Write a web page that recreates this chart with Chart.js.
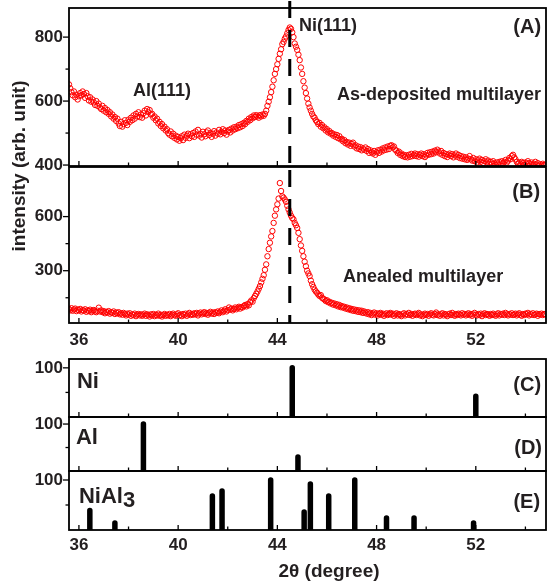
<!DOCTYPE html>
<html><head><meta charset="utf-8">
<script src="https://cdn.jsdelivr.net/npm/chart.js@4.4.1/dist/chart.umd.min.js"></script>
<style>
html,body{margin:0;padding:0;background:#fff;width:547px;height:587px;overflow:hidden;position:relative}
canvas{position:absolute;left:0;top:-30px}
</style></head><body>
<canvas id="cA" width="600" height="650"></canvas>
<canvas id="cB" width="600" height="650"></canvas>
<canvas id="cC" width="600" height="650"></canvas>
<canvas id="cD" width="600" height="650"></canvas>
<canvas id="cE" width="600" height="650"></canvas>
<script>
// ---- data ----
const twoThetaStart = 35.6;
const twoThetaStep = 0.05;
const asDeposited = [
652,640,628,618,630,612,620,605,615,625,618,630,622,610,625,615,602,612,598,605,
596,588,600,585,592,580,575,585,570,578,565,572,560,565,552,558,545,550,538,545,
530,522,535,520,528,540,532,525,542,535,548,540,555,545,560,552,565,550,558,548,
562,570,555,575,565,572,558,560,548,552,540,545,530,535,522,528,515,520,508,512,
500,495,505,490,498,485,492,480,488,476,484,490,478,495,485,492,498,484,496,490,
500,488,505,495,510,492,498,486,504,496,490,502,508,494,500,488,498,506,492,502,
498,510,496,504,512,500,508,495,505,510,502,514,508,518,512,520,515,525,518,528,
522,532,528,538,535,545,540,550,546,555,550,556,552,548,556,552,558,554,560,570,
585,598,612,628,645,665,685,700,715,732,748,762,778,785,795,802,812,822,830,826,
815,800,780,770,760,745,728,705,685,662,642,625,608,592,580,570,560,552,548,540,
535,528,532,520,525,515,518,508,512,502,506,498,500,492,496,488,494,484,490,480,
482,474,478,468,472,464,470,460,466,470,458,462,452,458,450,456,446,452,448,455,
444,450,438,446,440,436,444,432,440,446,438,448,442,452,446,455,448,458,450,460,
462,455,458,448,445,438,442,432,436,428,432,425,430,424,432,426,435,428,432,436,
428,434,426,432,436,428,434,425,430,438,432,440,434,442,436,445,440,448,442,436,
444,432,438,428,434,425,432,436,428,434,424,430,436,426,432,422,428,420,426,418,
424,416,420,428,418,414,422,412,418,408,415,420,410,416,406,412,418,408,414,404,
410,404,412,406,400,408,402,410,404,412,406,410,416,408,414,422,418,428,432,424,
418,410,404,408,402,410,406,400,408,404,412,406,402,408,400,404,410,402,406,398,
402,398,404,400,398
];
const annealed = [
88,80,92,78,85,90,76,84,80,88,74,82,78,86,72,80,76,84,70,78,
82,74,70,78,95,74,80,70,76,64,72,68,76,62,70,66,74,60,68,64,
70,58,64,56,66,60,52,62,56,64,50,58,54,62,48,56,60,52,58,50,
56,62,50,58,54,46,58,52,60,48,56,52,62,50,56,46,54,60,50,56,
52,60,48,56,62,54,50,58,64,52,56,48,60,54,62,50,58,66,54,60,
56,64,58,66,52,62,68,58,64,70,60,66,56,64,72,62,68,60,70,66,
74,64,72,80,70,78,86,74,82,96,84,90,80,88,96,86,94,100,90,98,
96,104,110,102,115,108,125,135,128,148,160,172,185,200,215,235,255,275,305,335,
380,420,455,490,520,565,605,640,668,700,786,742,712,705,695,682,660,640,622,605,
592,585,565,552,537,510,475,440,410,380,350,325,300,285,270,245,225,210,195,185,
178,168,160,165,150,145,140,132,136,125,128,118,122,112,118,108,114,102,110,98,
104,95,100,90,96,86,92,82,88,78,85,76,82,72,80,70,78,66,74,68,
62,70,58,66,54,62,68,56,64,52,60,66,55,62,50,58,64,54,60,66,
56,62,50,58,64,52,60,55,48,58,64,52,60,56,66,54,60,50,58,62,
54,60,66,52,58,48,56,62,54,60,50,58,64,56,52,60,68,54,58,50,
58,64,52,60,56,48,58,62,54,66,56,50,60,54,62,58,52,64,56,60,
52,58,64,54,60,50,58,66,56,52,60,54,62,48,58,64,54,60,56,50,
60,54,62,56,50,58,64,52,60,56,62,54,66,58,52,60,56,64,54,58,
62,52,58,64,56,50,60,54,62,58,66,52,60,56,64,54,58,62,50,60,
56,62,54,60,58
];
const niPos = [44.6, 52.0];
const niInt = [100, 42];
const alPos = [38.6, 44.83];
const alInt = [100, 30];
const nial3Pos = [36.44, 37.45, 41.38, 41.77, 43.73, 45.08, 45.33, 46.07, 47.12, 48.40, 49.51, 51.91];
const nial3Int = [39, 14, 68, 78, 100, 36, 92, 68, 100, 24, 24, 14];
const ni111Position = 44.5;
const xMajorTicks = [36, 40, 44, 48, 52];
const xMinorTicks = [38, 42, 46, 50, 54];
const xTickLabels = ['36', '40', '44', '48', '52'];

// ---- rendering ----
const FONT = "'Liberation Sans', Arial, Helvetica, sans-serif";
const INK = '#231f20';
const X_MIN = 35.6, X_MAX = 54.83;
const OFF = 30;            // canvas is shifted up by OFF px
const CAN_H = 650, CAN_W = 600, AREA_RIGHT = 546;

function toPoints(arr){ return arr.map((v,i)=>({x:+(twoThetaStart+i*twoThetaStep).toFixed(2), y:v})); }
function toSticks(pos, inten){ const d=[]; pos.forEach((p,i)=>{ d.push({x:p,y:0},{x:p,y:inten[i]},{x:p,y:null}); }); return d; }

function pointSet(arr){
  return {data: toPoints(arr), showLine:false, pointRadius:2.7, pointBorderWidth:1,
    pointBorderColor:'#ff0000', pointBackgroundColor:'rgba(255,255,255,0)', pointStyle:'circle'};
}
function stickSet(pos, inten){
  return {data: toSticks(pos, inten), showLine:true, borderColor:'#000', borderWidth:5.5,
    borderCapStyle:'round', pointRadius:0, spanGaps:false, clip:{left:10,right:10,top:10,bottom:0}};
}

const decor = {
  id:'decor',
  afterDatasetsDraw(chart, args, o){
    const ctx = chart.ctx, a = chart.chartArea, xS = chart.scales.x, yS = chart.scales.y;
    const ln = (x1,y1,x2,y2)=>{ ctx.beginPath(); ctx.moveTo(x1,y1); ctx.lineTo(x2,y2); ctx.stroke(); };
    ctx.save();
    if (o.dash) {
      const px = xS.getPixelForValue(ni111Position);
      ctx.strokeStyle = '#000'; ctx.lineWidth = 3; ctx.setLineDash([17,12]);
      ln(px, o.dash === 'top' ? OFF + 1 : a.top + 3, px, a.bottom);
      ctx.setLineDash([]);
    }
    ctx.strokeStyle = '#000'; ctx.lineWidth = 1.8;
    ctx.strokeRect(a.left, a.top, a.right - a.left, a.bottom - a.top);
    ctx.lineWidth = 1.3;
    xMajorTicks.forEach(v=>{ const p = xS.getPixelForValue(v); ln(p, a.bottom, p, a.bottom - 5); });
    xMinorTicks.forEach(v=>{ const p = xS.getPixelForValue(v); ln(p, a.bottom, p, a.bottom - 3.5); });
    o.yMajor.forEach(v=>{ const p = yS.getPixelForValue(v); ln(a.left - 6, p, a.left, p); });
    o.yMinor.forEach(v=>{ const p = yS.getPixelForValue(v); ln(a.left - 3.5, p, a.left, p); });
    ctx.fillStyle = INK; ctx.textBaseline = 'middle';
    (o.texts || []).forEach(t=>{
      ctx.font = `bold ${t.size}px ${FONT}`;
      ctx.textAlign = t.align;
      const x = xS.getPixelForValue(t.x), y = yS.getPixelForValue(t.y);
      ctx.fillText(t.text, x, y);
      if (t.sub) { const w = ctx.measureText(t.text).width; ctx.textAlign = 'left'; ctx.fillText(t.sub, x + w, y + 4); }
    });
    if (o.yTitle) {
      ctx.save(); ctx.translate(20, OFF + 166); ctx.rotate(-Math.PI/2);
      ctx.font = `bold 19px ${FONT}`; ctx.textAlign = 'center';
      ctx.fillText(o.yTitle, 0, 0); ctx.restore();
    }
    if (o.xTitle) {
      ctx.font = `bold 19px ${FONT}`; ctx.textAlign = 'center';
      ctx.fillText(o.xTitle, 329, OFF + 572);
    }
    ctx.restore();
  }
};

function panel(id, cfg){
  const xh = cfg.xh || 0;
  return new Chart(document.getElementById(id), {
    type:'scatter',
    data:{datasets: cfg.datasets},
    options:{
      responsive:false, animation:false, devicePixelRatio:1, events:[],
      layout:{padding:{top:cfg.top + OFF, bottom:CAN_H - (cfg.bottom + OFF) - xh, left:0, right:CAN_W - AREA_RIGHT}},
      plugins:{legend:{display:false}, tooltip:{enabled:false}, decor:cfg.decor},
      scales:{
        x:{type:'linear', min:X_MIN, max:X_MAX, display: xh > 0,
           grid:{display:false, drawTicks:false}, border:{display:false},
           ticks:{font:{family:FONT,size:17,weight:'bold'}, color:INK, padding:cfg.xpad || 0, maxRotation:0, autoSkip:false,
                  callback:(v)=>{ const i = xMajorTicks.indexOf(v); return i >= 0 ? xTickLabels[i] : ''; }},
           afterBuildTicks:s=>{ s.ticks = xMajorTicks.map(v=>({value:v})); },
           afterFit:s=>{ s.height = xh; }},
        y:{type:'linear', min:cfg.ymin, max:cfg.ymax,
           grid:{display:false, drawTicks:false}, border:{display:false},
           ticks:{font:{family:FONT,size:17,weight:'bold'}, color:INK, padding:6, callback:v=>String(v)},
           afterBuildTicks:s=>{ s.ticks = cfg.decor.yMajor.map(v=>({value:v})); },
           afterFit:s=>{ s.width = 69; }}
      }
    },
    plugins:[decor]
  });
}

panel('cA', {top:8, bottom:166, ymin:397, ymax:891,
  datasets:[pointSet(asDeposited)],
  decor:{dash:'top', yMajor:[400,600,800], yMinor:[500,700], yTitle:'intensity (arb. unit)',
    texts:[
      {text:'Al(111)', x:38.18, y:631, align:'left', size:18},
      {text:'Ni(111)', x:44.87, y:834, align:'left', size:18},
      {text:'(A)', x:54.63, y:831, align:'right', size:20},
      {text:'As-deposited multilayer', x:54.63, y:619, align:'right', size:18}
    ]}});

panel('cB', {top:167, bottom:323, xh:30, xpad:7, ymin:10, ymax:875,
  datasets:[pointSet(annealed)],
  decor:{dash:'area', yMajor:[300,600], yMinor:[150,450],
    texts:[
      {text:'(B)', x:54.59, y:731, align:'right', size:20},
      {text:'Anealed multilayer', x:46.65, y:267, align:'left', size:18}
    ]}});

panel('cC', {top:359, bottom:417, ymin:0, ymax:118,
  datasets:[stickSet(niPos, niInt)],
  decor:{yMajor:[100], yMinor:[50],
    texts:[
      {text:'Ni', x:35.92, y:71, align:'left', size:22},
      {text:'(C)', x:54.63, y:65, align:'right', size:20}
    ]}});

panel('cD', {top:417, bottom:471, ymin:0, ymax:115,
  datasets:[stickSet(alPos, alInt)],
  decor:{yMajor:[100], yMinor:[50],
    texts:[
      {text:'Al', x:35.88, y:70, align:'left', size:22},
      {text:'(D)', x:54.67, y:49, align:'right', size:20}
    ]}});

panel('cE', {top:471, bottom:530, xh:30, xpad:5, ymin:0, ymax:118,
  datasets:[stickSet(nial3Pos, nial3Int)],
  decor:{yMajor:[100], yMinor:[50], xTitle:'2\u03b8 (degree)',
    texts:[
      {text:'NiAl', sub:'3', x:36.0, y:66, align:'left', size:22},
      {text:'(E)', x:54.59, y:56, align:'right', size:20}
    ]}});
</script>
</body></html>
